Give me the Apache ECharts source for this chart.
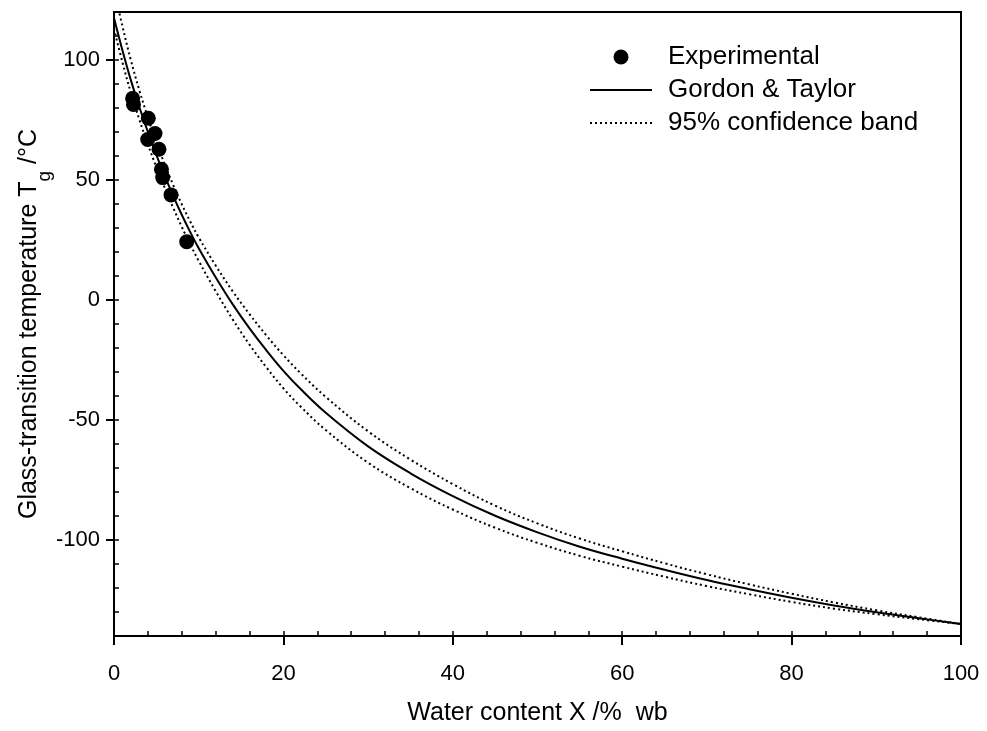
<!DOCTYPE html>
<html>
<head>
<meta charset="utf-8">
<script src="https://cdn.jsdelivr.net/npm/echarts@6/dist/echarts.min.js"></script>
<style>html,body{margin:0;padding:0;background:#fff}#c{width:987px;height:731px}</style>
</head>
<body>
<div id="c"></div>
<script>
// Experimental points (water content %, Tg °C)
var expX = [2.2, 2.3, 4.05, 4.84, 3.98, 5.31, 5.6, 5.75, 6.73, 8.58];
var expY = [84, 81.5, 75.7, 69.4, 66.9, 62.8, 54.5, 51, 43.8, 24.3];

// Gordon & Taylor fitted curve
var fitX = [0, 1, 2, 3, 4, 5, 6, 7, 8, 9, 10, 12, 14, 16, 18, 20, 22, 25, 30, 35, 40, 45, 50, 55, 60, 65, 70, 75, 80, 85, 90, 95, 100];
var fitY = [117.5, 104, 91.5, 80.3, 70, 60.5, 51.6, 43.3, 35.5, 28.3, 21.6, 9.5, -1.7, -11.8, -21, -29.5, -37, -47, -61, -72.2, -81.7, -89.9, -96.8, -102.8, -107.8, -112.4, -116.7, -120.5, -124.1, -127.3, -130.1, -132.6, -135];
// 95% confidence band, upper and lower
var upperY = [129.5, 114, 99.8, 87.3, 76, 65.8, 56.4, 47.8, 39.9, 32.7, 26.1, 14.4, 3.7, -5.9, -14.8, -23, -30.4, -40.4, -54.7, -66.5, -76.7, -85.7, -93.1, -99.4, -104.7, -109.7, -114.3, -118.5, -122.4, -126, -129.3, -132.2, -135];
var lowerY = [113, 99, 86.3, 75.1, 64.8, 55.4, 46.6, 38.3, 30.5, 23.2, 16.3, 3.7, -8, -18.6, -28.1, -36.8, -44.3, -54.2, -67.8, -78.4, -87.3, -94.9, -101.2, -106.6, -111.1, -115.3, -119.2, -122.6, -125.8, -128.6, -130.9, -133, -135];

var yMajor = [-100, -50, 0, 50, 100];

function pairs(xs, ys) { return xs.map(function (x, i) { return [x, ys[i]]; }); }

var FONT = '"Liberation Sans", Arial, sans-serif';
var chart = echarts.init(document.getElementById('c'), null, { renderer: 'canvas' });
chart.setOption({
  animation: false,
  backgroundColor: '#fff',
  textStyle: { fontFamily: FONT, color: '#000' },
  grid: { left: 114, right: 26, top: 12, bottom: 95, show: true, borderColor: '#000', borderWidth: 2, backgroundColor: 'transparent' },
  legend: {
    orient: 'vertical', left: 584, top: 39, itemWidth: 62, itemHeight: 15, itemGap: 7,
    textStyle: { fontFamily: FONT, fontSize: 26, color: '#000', lineHeight: 26, padding: [0, 0, 0, 11] },
    lineStyle: { width: 2 },
    data: [
      { name: 'Experimental', icon: 'circle' },
      { name: 'Gordon & Taylor', itemStyle: { opacity: 0 } },
      { name: '95% confidence band', itemStyle: { opacity: 0 } }
    ]
  },
  xAxis: [
    {
      type: 'value', min: 0, max: 100, interval: 20, position: 'bottom',
      axisLine: { show: true, onZero: false, lineStyle: { color: '#000', width: 2 } },
      axisTick: { show: true, inside: false, length: 9, lineStyle: { color: '#000', width: 2 } },
      axisLabel: { color: '#000', fontSize: 22, fontFamily: FONT, margin: 27 },
      splitLine: { show: false },
      name: 'Water content X /%  wb', nameLocation: 'middle', nameGap: 65, nameMoveOverlap: false,
      nameTextStyle: { fontSize: 25, fontFamily: FONT, color: '#000' }
    },
    {
      type: 'value', min: 0, max: 100, interval: 4, position: 'bottom',
      axisLine: { show: false, onZero: false },
      axisTick: { show: true, inside: true, length: 5, lineStyle: { color: '#000', width: 1.5 } },
      axisLabel: { show: false }, splitLine: { show: false }
    }
  ],
  yAxis: [
    {
      type: 'value', min: -140, max: 120, position: 'left',
      axisLine: { show: true, onZero: false, lineStyle: { color: '#000', width: 2 } },
      axisTick: { show: true, inside: false, length: 8, customValues: yMajor, lineStyle: { color: '#000', width: 2 } },
      axisLabel: { color: '#000', fontSize: 22, fontFamily: FONT, margin: 14, customValues: yMajor },
      splitLine: { show: false },
      name: '{a|Glass-transition temperature T}{s|g}{a| /°C}', nameLocation: 'middle', nameGap: 72, nameMoveOverlap: false,
      nameTextStyle: {
        fontFamily: FONT, color: '#000',
        rich: {
          a: { fontSize: 25, fontFamily: FONT, color: '#000' },
          s: { fontSize: 19, fontFamily: FONT, color: '#000', verticalAlign: 'bottom', padding: [0, 0, -12, 0] }
        }
      }
    },
    {
      type: 'value', min: -140, max: 120, interval: 10, position: 'left',
      axisLine: { show: false, onZero: false },
      axisTick: { show: true, inside: true, length: 5, lineStyle: { color: '#000', width: 1.5 } },
      axisLabel: { show: false }, splitLine: { show: false }
    }
  ],
  series: [
    {
      name: 'Gordon & Taylor', type: 'line', smooth: 0.4, symbol: 'none', clip: true,
      data: pairs(fitX, fitY), lineStyle: { color: '#000', width: 2 }, itemStyle: { color: '#000' }, z: 3
    },
    {
      name: '95% confidence band', type: 'line', smooth: 0.4, symbol: 'none', clip: true,
      data: pairs(fitX, upperY), lineStyle: { color: '#000', width: 2, type: [2, 3] }, itemStyle: { color: '#000' }, z: 2
    },
    {
      name: '95% confidence band', type: 'line', smooth: 0.4, symbol: 'none', clip: true,
      data: pairs(fitX, lowerY), lineStyle: { color: '#000', width: 2, type: [2, 3] }, itemStyle: { color: '#000' }, z: 2
    },
    {
      name: 'Experimental', type: 'scatter', symbol: 'circle', symbolSize: 15,
      data: pairs(expX, expY), itemStyle: { color: '#000', opacity: 1 }, z: 4
    }
  ]
});
</script>
</body>
</html>
